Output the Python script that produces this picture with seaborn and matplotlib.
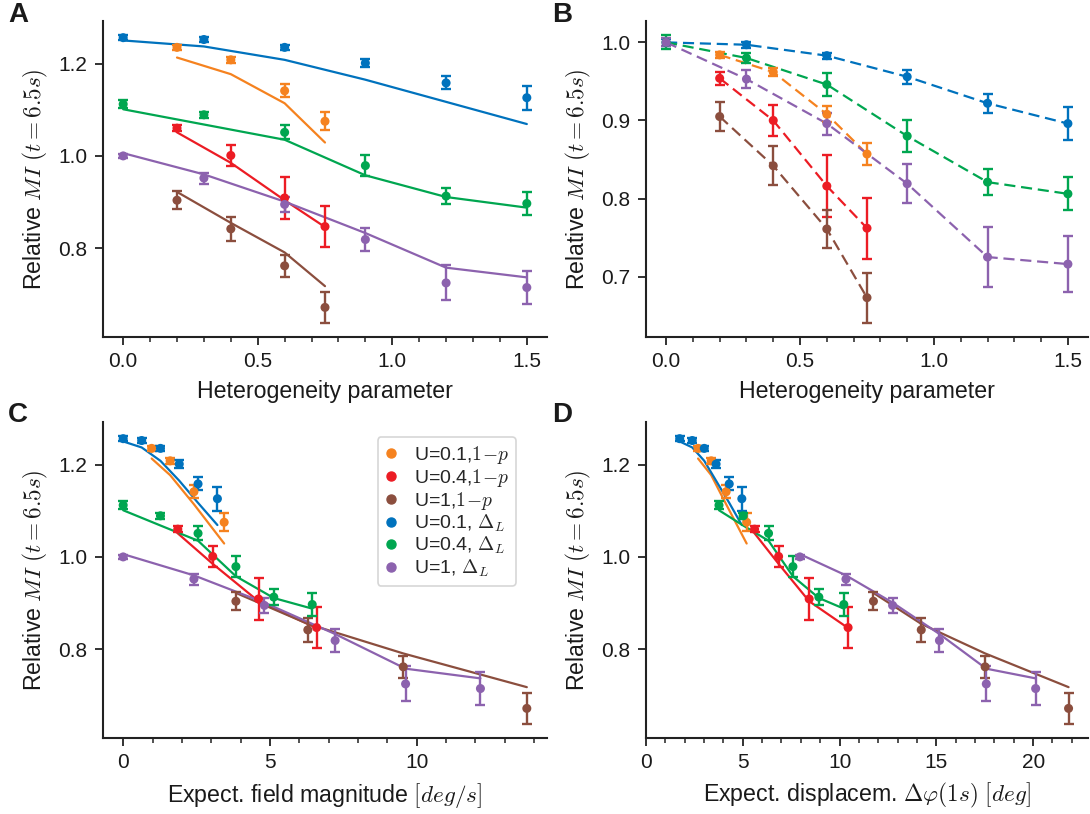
import numpy as np
import pandas as pd
import matplotlib
matplotlib.use("Agg")
import matplotlib.pyplot as plt
import seaborn as sns
from matplotlib.ticker import MultipleLocator
from matplotlib.lines import Line2D

sns.set_theme(style="ticks")
plt.rcParams['font.family'] = ['Liberation Sans', 'DejaVu Sans']
plt.rcParams['mathtext.fontset'] = 'cm'

# ---------------- data ----------------
het_DL = [0.0, 0.3, 0.6, 0.9, 1.2, 1.5]      # heterogeneity for Delta_L series
het_p = [0.2, 0.4, 0.6, 0.75]                # heterogeneity for 1-p series

# panel A: relative MI (measured) and model fits
blue_mi = [1.256, 1.252, 1.235, 1.201, 1.158, 1.126]
blue_err = [0.005, 0.005, 0.006, 0.008, 0.014, 0.026]
green_mi = [1.112, 1.089, 1.051, 0.979, 0.913, 0.897]
green_err = [0.009, 0.006, 0.015, 0.023, 0.018, 0.024]
purple_mi = [1.000, 0.952, 0.895, 0.819, 0.725, 0.715]
purple_err = [0.005, 0.012, 0.017, 0.025, 0.038, 0.036]
orange_mi = [1.235, 1.208, 1.141, 1.075]
orange_err = [0.005, 0.007, 0.014, 0.019]
red_mi = [1.060, 1.001, 0.909, 0.847]
red_err = [0.007, 0.022, 0.045, 0.044]
brown_mi = [0.904, 0.842, 0.762, 0.672]
brown_err = [0.020, 0.026, 0.024, 0.033]

blue_fit = [1.250, 1.237, 1.208, 1.165, 1.117, 1.069]
green_fit = [1.101, 1.068, 1.035, 0.958, 0.911, 0.888]
purple_fit = [1.006, 0.960, 0.901, 0.833, 0.758, 0.737]
orange_fit = [1.213, 1.177, 1.114, 1.029]
red_fit = [1.051, 0.985, 0.904, 0.846]
brown_fit = [0.922, 0.855, 0.791, 0.718]

# panel B: MI normalised to homogeneous case
blue_B = [1.0, 0.997, 0.983, 0.956, 0.922, 0.896]
blue_Berr = [0.004, 0.004, 0.004, 0.009, 0.012, 0.021]
green_B = [1.0, 0.980, 0.946, 0.880, 0.821, 0.806]
green_Berr = [0.009, 0.006, 0.015, 0.021, 0.017, 0.021]
purple_B = [1.0, 0.953, 0.896, 0.819, 0.725, 0.716]
purple_Berr = [0.005, 0.011, 0.014, 0.025, 0.038, 0.036]
orange_B = [0.984, 0.962, 0.908, 0.857]
orange_Berr = [0.004, 0.005, 0.010, 0.014]
red_B = [0.954, 0.900, 0.816, 0.762]
red_Berr = [0.008, 0.020, 0.040, 0.039]
brown_B = [0.905, 0.842, 0.761, 0.673]
brown_Berr = [0.019, 0.025, 0.024, 0.032]

# panel C: expected field magnitude [deg/s]
fm_blue = [0.0, 0.63, 1.27, 1.91, 2.55, 3.21]
fm_green = [0.0, 1.27, 2.55, 3.84, 5.13, 6.44]
fm_purple = [0.0, 2.41, 4.81, 7.22, 9.62, 12.17]
fm_orange = [0.97, 1.60, 2.41, 3.44]
fm_red = [1.86, 3.05, 4.61, 6.59]
fm_brown = [3.84, 6.29, 9.54, 13.75]

# panel D: expected displacement [deg]
dp_blue = [1.74, 2.39, 3.01, 3.62, 4.30, 4.95]
dp_green = [3.77, 5.02, 6.33, 7.59, 8.93, 10.22]
dp_purple = [7.95, 10.33, 12.74, 15.16, 17.58, 20.13]
dp_orange = [2.69, 3.37, 4.14, 5.20]
dp_red = [5.61, 6.85, 8.43, 10.44]
dp_brown = [11.75, 14.22, 17.52, 21.83]

labels = ["U=0.1,$1\\!-\\!p$", "U=0.4,$1\\!-\\!p$", "U=1,$1\\!-\\!p$",
          "U=0.1, $\\Delta_L$", "U=0.4, $\\Delta_L$", "U=1, $\\Delta_L$"]
colors = ["#F5821F", "#EC1C24", "#8B4E3E", "#0072BD", "#00A650", "#8C62AE"]

series = [
    # name, het, mi, err, fit, B, Berr, fm, dp
    (labels[0], het_p, orange_mi, orange_err, orange_fit, orange_B, orange_Berr, fm_orange, dp_orange),
    (labels[1], het_p, red_mi, red_err, red_fit, red_B, red_Berr, fm_red, dp_red),
    (labels[2], het_p, brown_mi, brown_err, brown_fit, brown_B, brown_Berr, fm_brown, dp_brown),
    (labels[3], het_DL, blue_mi, blue_err, blue_fit, blue_B, blue_Berr, fm_blue, dp_blue),
    (labels[4], het_DL, green_mi, green_err, green_fit, green_B, green_Berr, fm_green, dp_green),
    (labels[5], het_DL, purple_mi, purple_err, purple_fit, purple_B, purple_Berr, fm_purple, dp_purple),
]

rows = []
for (name, het, mi, err, fit, b, berr, fm, dp) in series:
    for i in range(len(het)):
        rows.append(dict(series=name, het=het[i], mi=mi[i], err=err[i], fit=fit[i],
                         B=b[i], Berr=berr[i], fm=fm[i], dp=dp[i]))
df = pd.DataFrame(rows)
pal = dict(zip(labels, colors))

# ---------------- figure ----------------
W, H = 1090, 814
fig = plt.figure(figsize=(W / 100, H / 100), dpi=100)

def axes_px(l, t, r, b):
    return fig.add_axes([l / W, 1 - b / H, (r - l) / W, (b - t) / H])

axA = axes_px(103, 21, 547, 337)
axB = axes_px(646, 21, 1088, 337)
axC = axes_px(103, 422, 547, 738)
axD = axes_px(646, 422, 1088, 738)

MS = 6.5
ELW = 1.7
CAP = 3.3
LW = 1.6
LABFS = 16.7
ylab = "Relative $MI$ $(t = 6.5s)$"

def draw_points(ax, xcol, ycol, ecol):
    for name in labels:
        sub = df[df.series == name]
        c = pal[name]
        ax.errorbar(sub[xcol], sub[ycol], yerr=sub[ecol], fmt='none', ecolor=c,
                    elinewidth=ELW, capsize=CAP, capthick=ELW, zorder=3)
    sns.scatterplot(data=df, x=xcol, y=ycol, hue='series', palette=pal, hue_order=labels,
                    s=MS ** 2, linewidth=0, legend=False, ax=ax, zorder=4)

def draw_fits(ax, xcol):
    for name in labels:
        sub = df[df.series == name]
        sns.lineplot(x=sub[xcol].values, y=sub['fit'].values, color=pal[name], lw=LW,
                     sort=False, estimator=None, ax=ax, zorder=2)

# A
draw_fits(axA, 'het')
draw_points(axA, 'het', 'mi', 'err')
# B
for name in labels:
    sub = df[df.series == name]
    sns.lineplot(x=sub['het'].values, y=sub['B'].values, color=pal[name], lw=LW,
                 sort=False, estimator=None, ax=axB, zorder=2)
for ln in axB.get_lines():
    ln.set_dashes((5, 2.6))
draw_points(axB, 'het', 'B', 'Berr')
# C
draw_fits(axC, 'fm')
draw_points(axC, 'fm', 'mi', 'err')
# D
draw_fits(axD, 'dp')
draw_points(axD, 'dp', 'mi', 'err')
axD.set_xlim(left=0)

spine_col = '#222222'
for ax in (axA, axB, axC, axD):
    sns.despine(ax=ax)
    for s in ('left', 'bottom'):
        ax.spines[s].set_linewidth(1.5)
        ax.spines[s].set_color(spine_col)
    ax.tick_params(axis='both', which='major', direction='out', length=6, width=1.3,
                   labelsize=15, pad=5, color=spine_col, labelcolor='#1a1a1a')
    ax.tick_params(axis='x', which='minor', direction='out', length=3.5, width=1.1,
                   color=spine_col)
    ax.set_ylabel(ylab, fontsize=LABFS, labelpad=6, color='#1a1a1a')

for ax in (axA, axB):
    ax.xaxis.set_major_locator(MultipleLocator(0.5))
    ax.xaxis.set_minor_locator(MultipleLocator(0.1))
    ax.set_xlabel("Heterogeneity parameter", fontsize=LABFS, labelpad=6, color='#1a1a1a')
for ax in (axC, axD):
    ax.xaxis.set_major_locator(MultipleLocator(5))
    ax.xaxis.set_minor_locator(MultipleLocator(1))
for ax in (axA, axC, axD):
    ax.yaxis.set_major_locator(MultipleLocator(0.2))
axB.yaxis.set_major_locator(MultipleLocator(0.1))
axC.set_xlabel("Expect. field magnitude $[deg/s]$", fontsize=LABFS, labelpad=6, color='#1a1a1a')
axD.set_xlabel("Expect. displacem. $\\Delta\\varphi(1s)$ $[deg]$", fontsize=LABFS, labelpad=6,
               color='#1a1a1a')

# legend in C
handles = [Line2D([], [], marker='o', ls='', color=c, ms=MS) for c in colors]
leg = axC.legend(handles, labels, loc='upper right', bbox_to_anchor=(0.93, 0.952),
                 borderaxespad=0, fontsize=14, handlelength=0.7, handletextpad=0.8,
                 labelspacing=0.05, borderpad=0.35, frameon=True, fancybox=True)
leg.get_frame().set_edgecolor('#cccccc')
leg.get_frame().set_linewidth(1.2)

for letter, (x, y) in zip("ABCD", [(8, 2), (552, 2), (8, 402), (552, 402)]):
    fig.text(x / W, 1 - y / H, letter, fontsize=20, fontweight='bold', ha='left', va='top',
             color='#1a1a1a')

fig.savefig("out.png", dpi=100)
